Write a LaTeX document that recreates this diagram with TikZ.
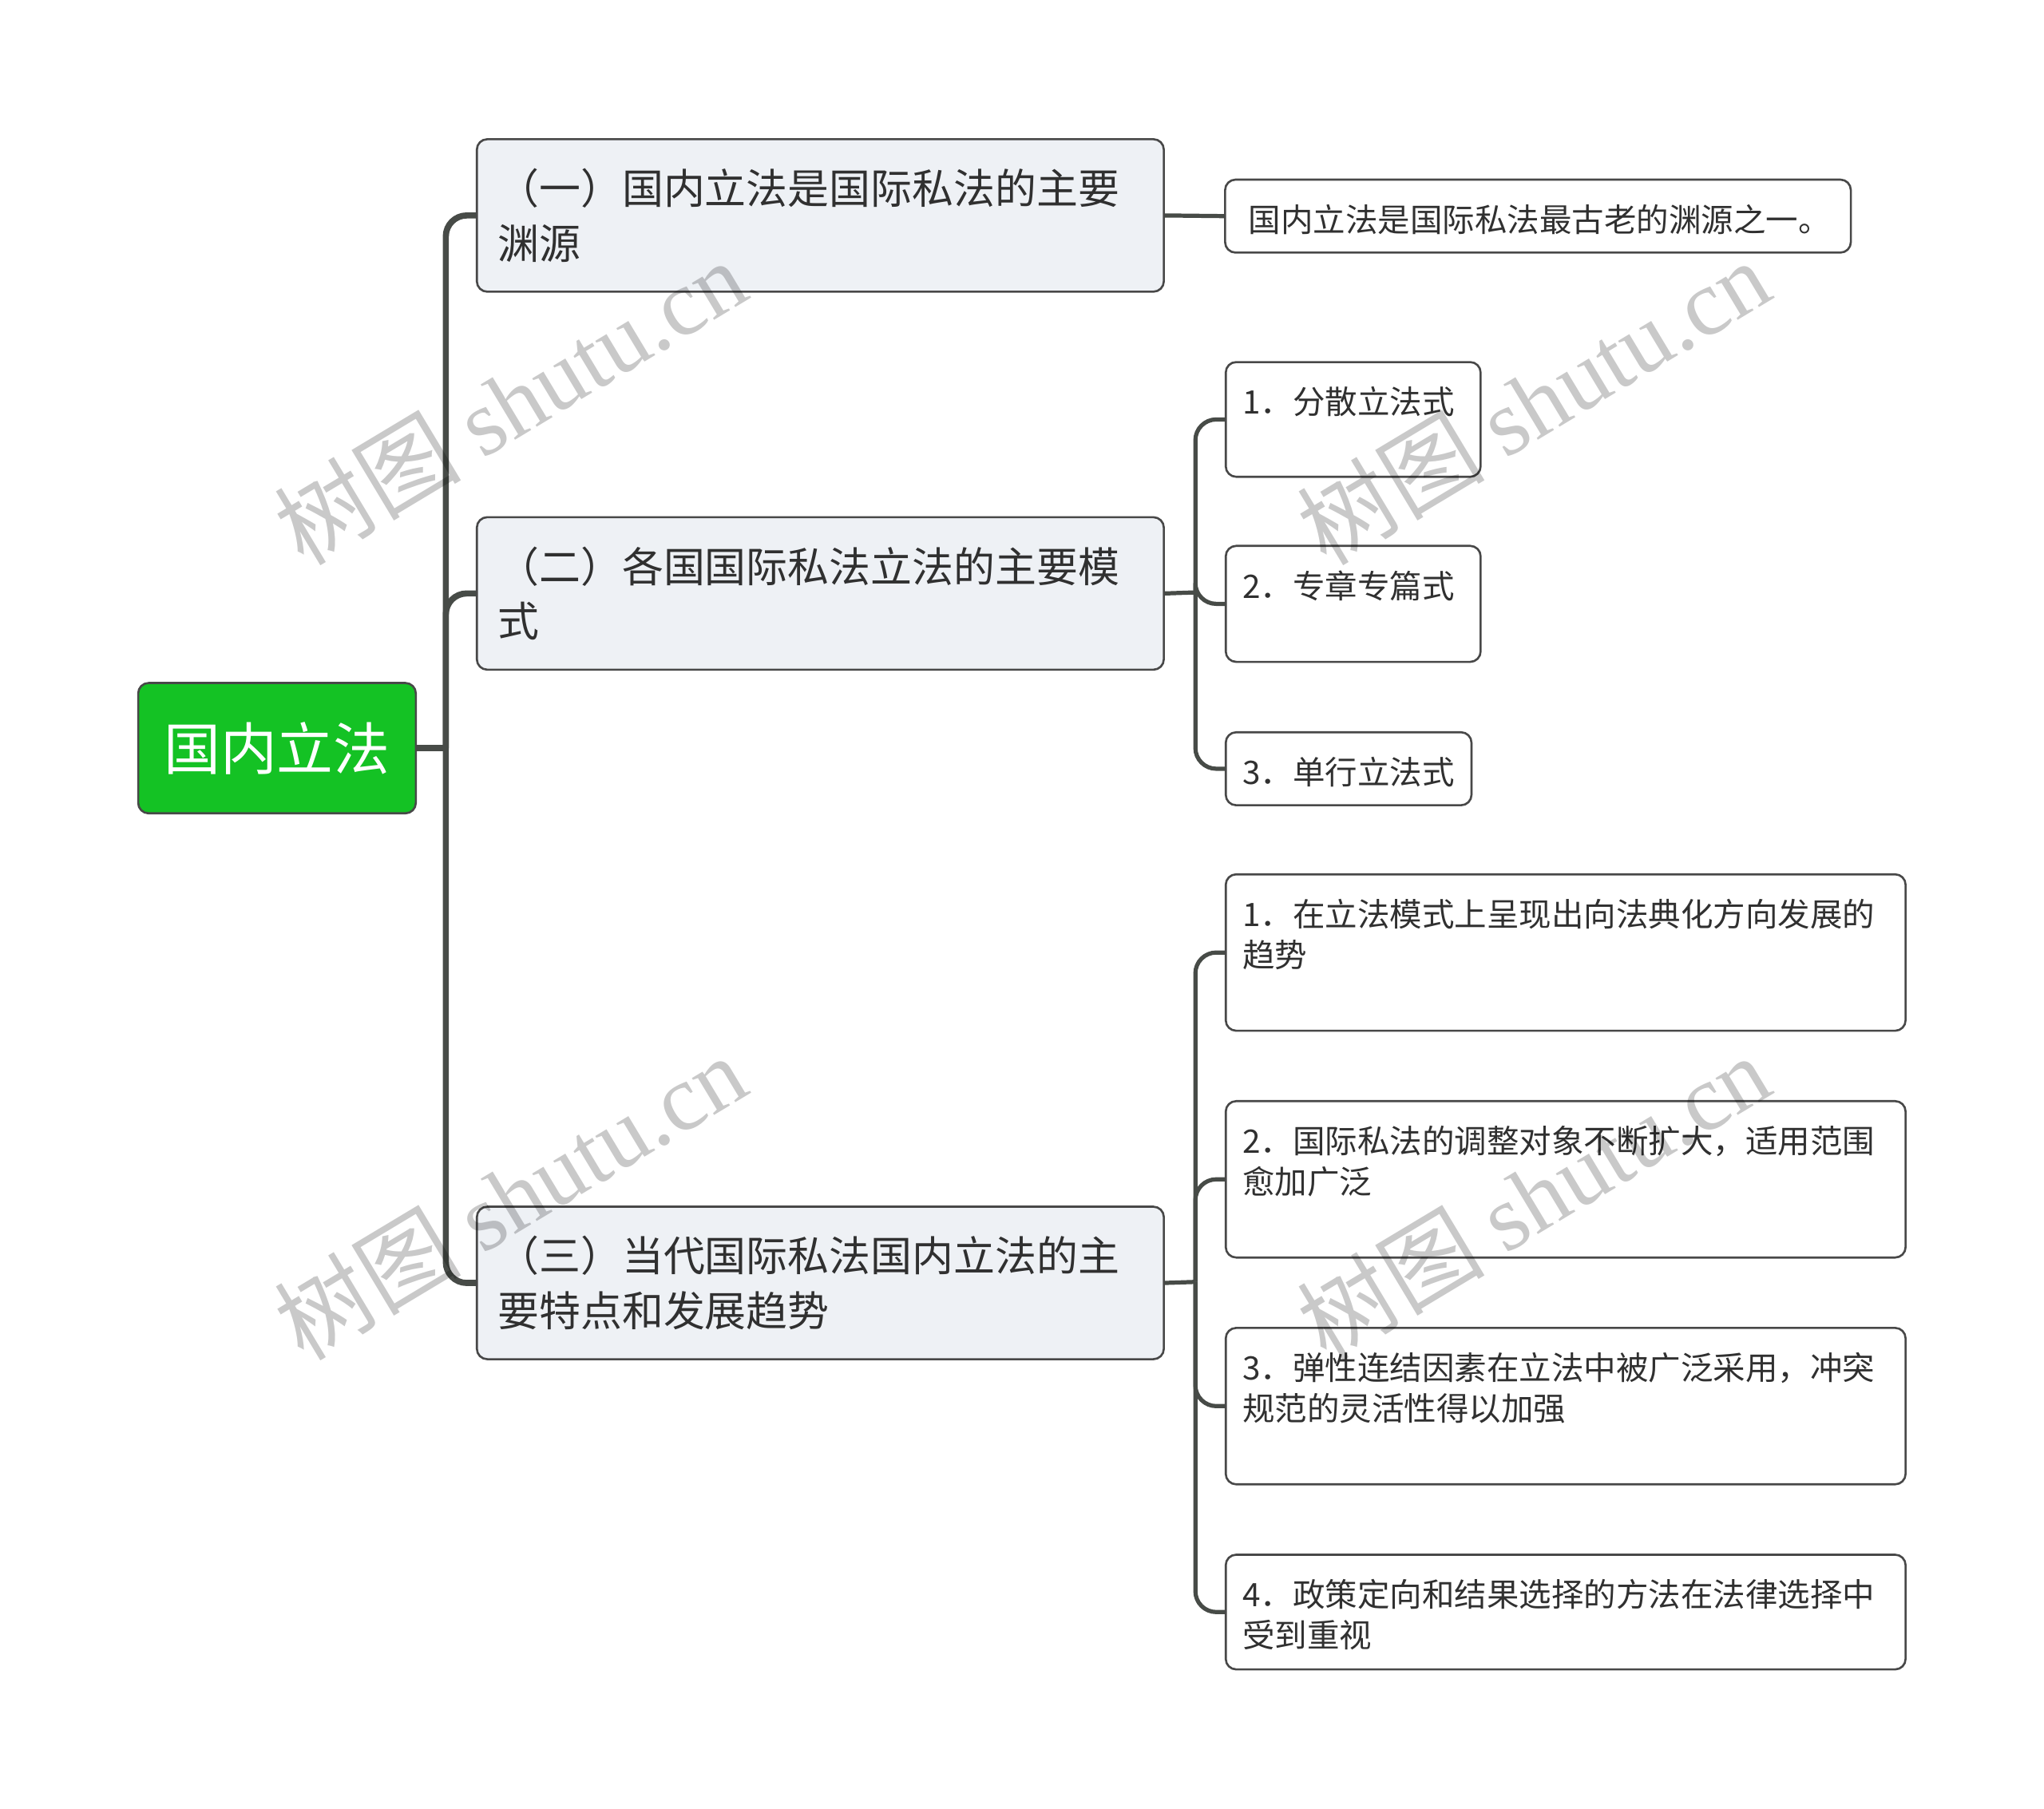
\documentclass[tikz,border=0pt]{standalone}
\usepackage{fontspec}
\setmainfont{Noto Sans CJK SC}
\newfontfamily\wmlatin{Liberation Serif}
\usepackage{tikz}
\usetikzlibrary{positioning}

\definecolor{rootgreen}{HTML}{14C224}
\definecolor{linkgray}{HTML}{474B47}
\definecolor{boxline}{HTML}{484848}
\definecolor{topicfill}{HTML}{EEF1F5}
\definecolor{inkgray}{HTML}{303030}

% leaf text sits at the top of its box
\newcommand{\leafbox}[3]{\parbox[t][#2][t]{#1}{\rule{0pt}{20pt}#3}}

\tikzset{
  root/.style={draw=boxline, line width=0.8pt, fill=rootgreen, rounded corners=4pt,
    minimum width=106.5pt, minimum height=50pt, inner sep=0pt, text=white,
    font=\fontsize{21.7pt}{26pt}\selectfont},
  topic/.style={draw=boxline, line width=0.8pt, fill=topicfill, rounded corners=4pt,
    anchor=north west, align=left, text width=247.5pt, minimum height=58.5pt,
    inner xsep=8pt, text=inkgray, font=\fontsize{15.9pt}{21pt}\selectfont},
  leaf/.style={draw=boxline, line width=0.8pt, fill=white, rounded corners=4pt,
    anchor=north west, inner xsep=6.5pt, inner ysep=0pt, text=inkgray,
    font=\fontsize{12.4pt}{15.5pt}\selectfont},
  trunk/.style={draw=linkgray, line width=2.35pt, rounded corners=8pt},
  twig/.style={draw=linkgray, line width=1.6pt, rounded corners=8pt},
  wmark/.style={rotate=31, text=black, text opacity=0.21, inner sep=0pt,
    font=\fontsize{36pt}{36pt}\selectfont}
}

\begin{document}
\begin{tikzpicture}[x=0.5pt, y=-0.5pt]

\useasboundingbox (0,0) rectangle (1568,1387.4);

\node[root] (law) at (212.5,574) {国内立法};

\node[topic] (src) at (365,106) {（一）国内立法是国际私法的主要\\渊源};
\node[topic] (mode) at (365,396) {（二）各国国际私法立法的主要模\\式};
\node[topic] (trend) at (365,925) {（三）当代国际私法国内立法的主\\要特点和发展趋势};

\node[leaf] (old) at (939,137) {\leafbox{227pt}{28pt}{\hspace*{2.5pt}国内立法是国际私法最古老的渊源之一。}};

\node[leaf] (m1) at (939.5,277) {\leafbox{84.75pt}{44pt}{1．分散立法式}};
\node[leaf] (m2) at (939.5,418) {\leafbox{84.75pt}{44.5pt}{2．专章专篇式}};
\node[leaf] (m3) at (939.5,561) {\leafbox{81.25pt}{28pt}{3．单行立法式}};

\node[leaf] (t1) at (939.5,670) {\leafbox{247.75pt}{60pt}{1．在立法模式上呈现出向法典化方向发展的\\趋势}};
\node[leaf] (t2) at (939.5,844) {\leafbox{247.75pt}{60pt}{2．国际私法的调整对象不断扩大，适用范围\\愈加广泛}};
\node[leaf] (t3) at (939.5,1018) {\leafbox{247.75pt}{60pt}{3．弹性连结因素在立法中被广泛采用，冲突\\规范的灵活性得以加强}};
\node[leaf] (t4) at (939.5,1192) {\leafbox{247.75pt}{44pt}{4．政策定向和结果选择的方法在法律选择中\\受到重视}};

\coordinate (j0) at (342,574);
\coordinate (j1) at (917,454.5);
\coordinate (j2) at (917,983.5);

\draw[trunk] (law.east) -- (j0);
\draw[trunk] (j0) |- (src.west);
\draw[trunk] (j0) |- (mode.west);
\draw[trunk] (j0) |- (trend.west);

\draw[twig] (src.east) -- (old.west);

\draw[twig] (mode.east) -- (j1);
\draw[twig] (j1) |- (m1.west);
\draw[twig] (j1) |- (m2.west);
\draw[twig] (j1) |- (m3.west);

\draw[twig] (trend.east) -- (j2);
\draw[twig] (j2) |- (t1.west);
\draw[twig] (j2) |- (t2.west);
\draw[twig] (j2) |- (t3.west);
\draw[twig] (j2) |- (t4.west);

% watermark
\foreach \wx/\wy [count=\i] in {391/308, 1176/308, 391/918, 1176/918}
  \node[wmark] (wm\i) at (\wx,\wy) {树图 {\wmlatin shutu.cn}};

\end{tikzpicture}
\end{document}
